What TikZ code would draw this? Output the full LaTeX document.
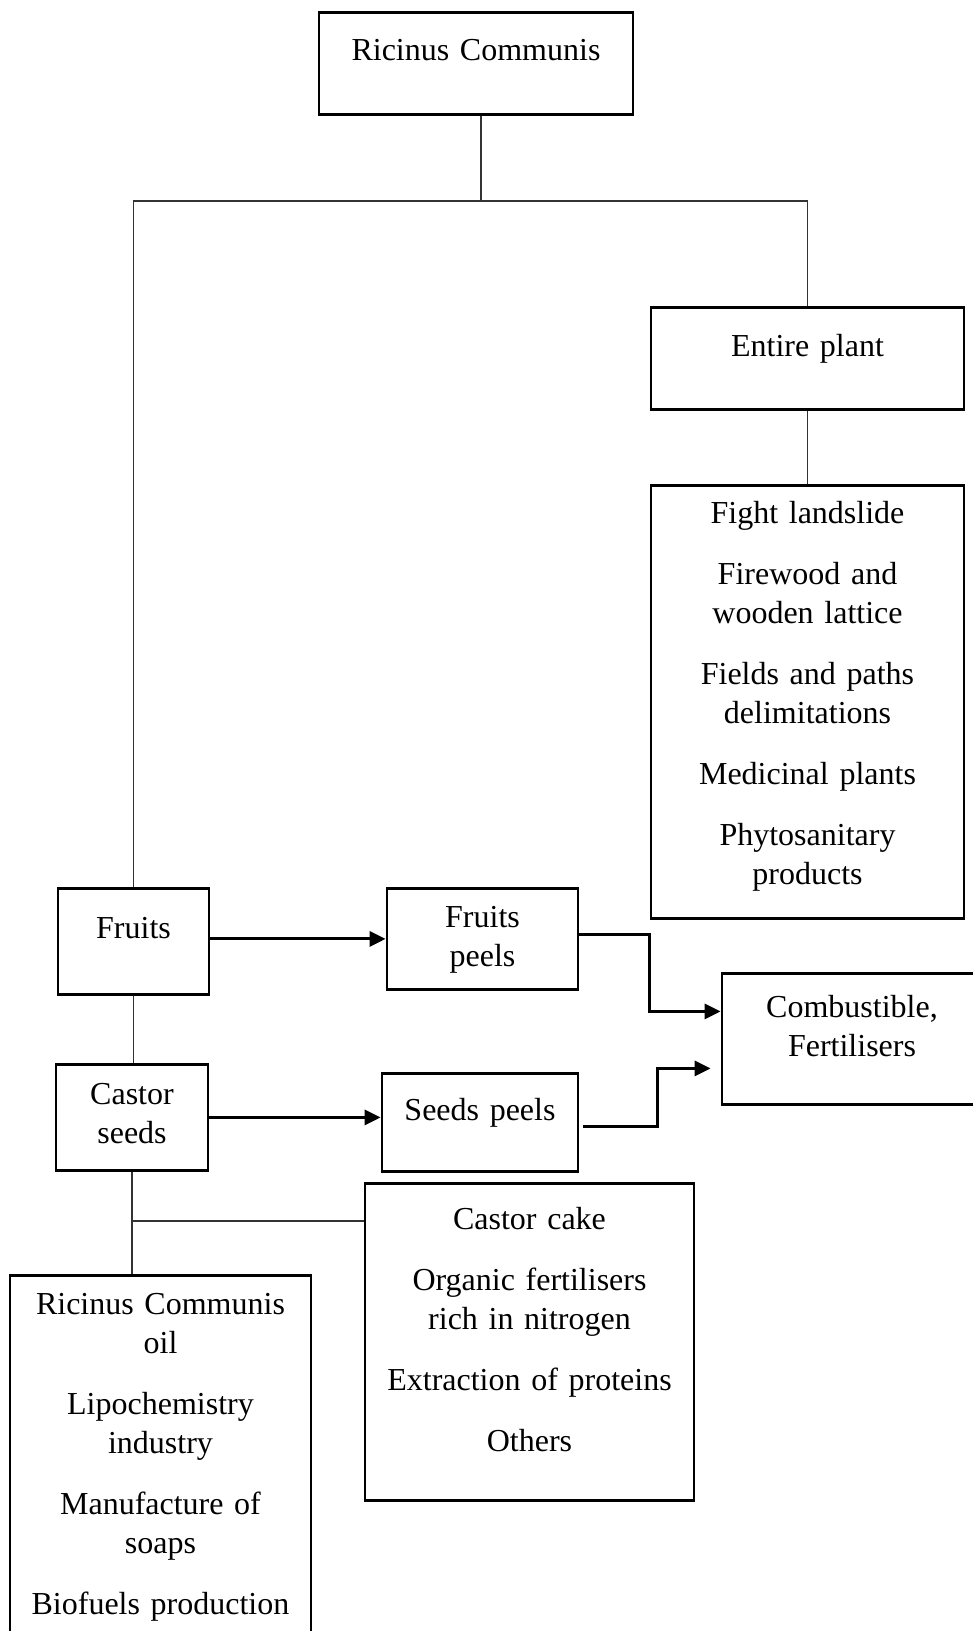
\documentclass[tikz,border=0pt]{standalone}
\usepackage{fontspec}
\setmainfont{Liberation Serif}
\usetikzlibrary{arrows.meta}

\begin{document}
\begin{tikzpicture}[
    x=0.5pt, y=-0.5pt,
    box/.style={draw, line width=1.4pt, inner sep=0pt, anchor=north, align=center, font=\fontsize{16pt}{19.5pt}\selectfont},
    link/.style={line width=0.6pt, draw=black!80},
    arrow/.style={-{Triangle[length=8pt, width=7.5pt]}, line width=1.5pt}
]
    \useasboundingbox (0,0) rectangle (973,1631);

    \node[box, text width=157pt, text height=24pt, text depth=27pt] (ricinus) at (476,11) {Ricinus Communis};
    \node[box, text width=156.5pt, text height=24.5pt, text depth=26.5pt] (plant) at (807.5,306) {Entire plant};
    \node[box, text width=156.5pt, text height=19pt, text depth=197.5pt] (plantuse) at (807.5,484)
        {Fight landslide\\[11pt] Firewood and\\ wooden lattice\\[11pt] Fields and paths\\ delimitations\\[11pt] Medicinal plants\\[11pt] Phytosanitary\\ products};
    \node[box, text width=75.5pt, text height=25pt, text depth=28pt] (fruits) at (133.5,887) {Fruits};
    \node[box, text width=95.5pt, text height=19.5pt, text depth=31pt] (fpeel) at (482.5,887) {Fruits\\ peels};
    \node[box, text width=130pt, text height=22pt, text depth=43.5pt] (comb) at (852,972) {Combustible,\\ Fertilisers};
    \node[box, text width=76pt, text height=20pt, text depth=33pt] (seeds) at (132,1063) {Castor\\ seeds};
    \node[box, text width=98pt, text height=23.5pt, text depth=25.5pt] (speel) at (480,1072) {Seeds peels};
    \node[box, text width=164.5pt, text height=23pt, text depth=135.5pt] (cake) at (529.5,1182)
        {Castor cake\\[11pt] Organic fertilisers\\ rich in nitrogen\\[11pt] Extraction of proteins\\[11pt] Others};
    \node[box, text width=150.5pt, text height=19.5pt, text depth=173.5pt] (oiluse) at (160.5,1274)
        {Ricinus Communis\\ oil\\[11pt] Lipochemistry\\ industry\\[11pt] Manufacture of\\ soaps\\[11pt] Biofuels production};

    \coordinate (bar) at (481,201);
    \coordinate (split) at (133,1221);

    \draw[link] (bar |- ricinus.south) -- (bar);
    \draw[link] (fruits.north) |- (bar) -| (plant.north);
    \draw[link] (plant.south) -- (plantuse.north);
    \draw[link] (fruits.south) -- (fruits.south |- seeds.north);
    \draw[link] (seeds.south) -- (seeds.south |- oiluse.north);
    \draw[link] (split) -- (split -| cake.west);

    \draw[arrow] (fruits.east |- fpeel.west) -- (fpeel.west);
    \draw[arrow] (seeds.east) -- (seeds.east -| speel.west);
    \draw[arrow] ([yshift=2pt]fpeel.east) -- ++(70,0) |- ([yshift=13.75pt]comb.west);
    \draw[arrow, shorten >=5pt] ([xshift=2pt, yshift=-2pt]speel.east) -- ++(74,0) |- ([yshift=-14.75pt]comb.west);
\end{tikzpicture}
\end{document}
